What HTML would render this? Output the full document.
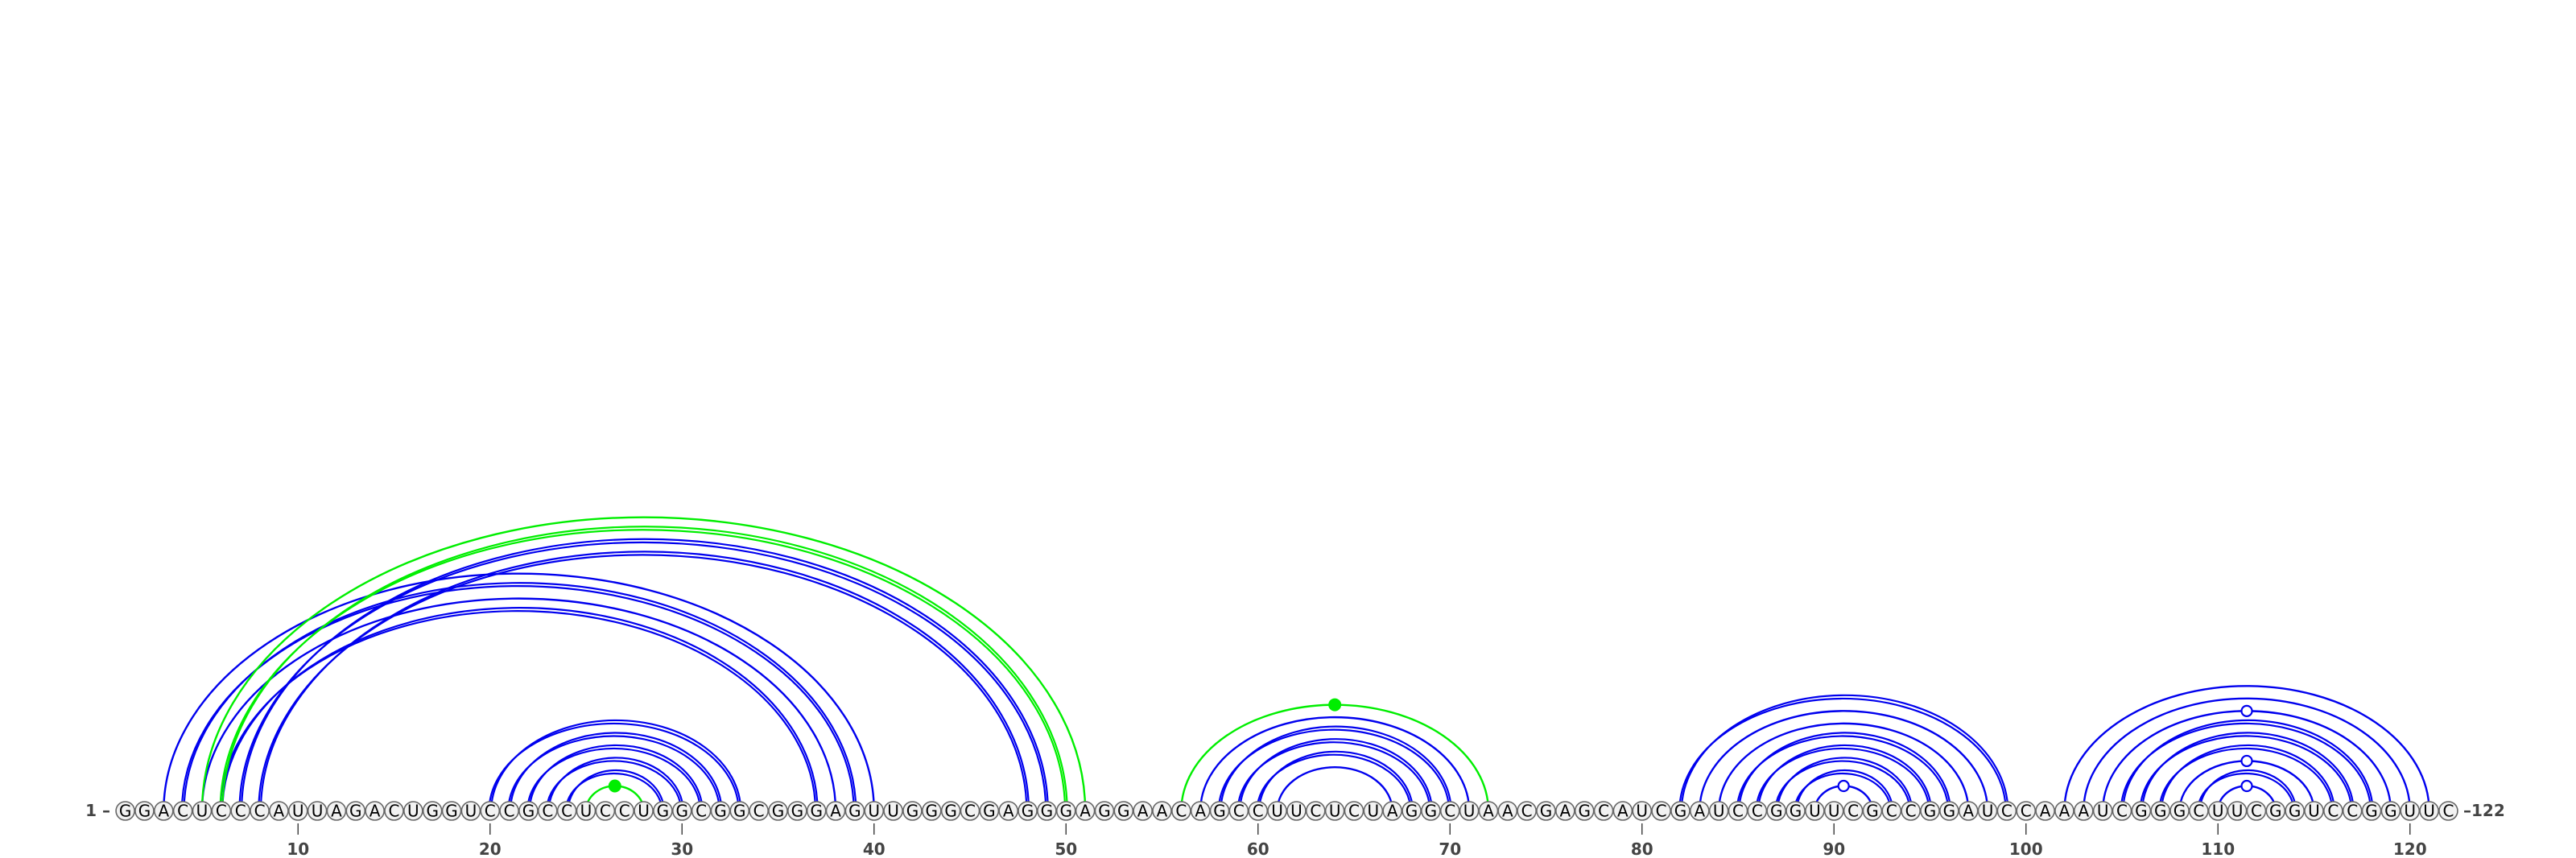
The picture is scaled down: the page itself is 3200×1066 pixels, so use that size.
<!DOCTYPE html>
<html><head><meta charset="utf-8">
<style>
html,body{margin:0;padding:0;background:#fff;}
svg{display:block;}
.nt{font-family:"DejaVu Sans","Liberation Sans",sans-serif;font-size:20px;fill:#000;}
.lab{font-family:"DejaVu Sans","Liberation Sans",sans-serif;font-size:20px;font-weight:bold;fill:#444;}
</style></head>
<body>
<svg id="chart" width="3200" height="1066" viewBox="0 0 3200 1066" xmlns="http://www.w3.org/2000/svg">
<g id="arcs"></g>
<g id="marks"></g>
<g id="nts"></g>
<g id="axis"></g>
</svg>
<script>
const sequence = "GGACUCCCAUUAGACUGGUCCGCCUCCUGGCGGCGGGAGUUGGGCGAGGGAGGAACAGCCUUCUCUAGGCUAACGAGCAUCGAUCCGGUUCGCCGGAUCCAAAUCGGGCUUCGGUCCGGUUC";
const blueSingle = [[3,40],[5,38],[57,71],[61,67],[83,98],[84,97],[89,92],[102,121],[103,120],[104,119],[108,115],[110,113]];
const blueDouble = [[4,39],[6,37],[7,49],[8,48],[20,33],[21,32],[22,31],[23,30],[24,29],[58,70],[59,69],[60,68],[82,99],[85,96],[86,95],[87,94],[88,93],[105,118],[106,117],[107,116],[109,114]];
const greenSingle = [[5,51],[25,28],[56,72]];
const greenDouble = [[6,50]];
const greenDots = [[25,28],[56,72]];
const openDots = [[89,92],[104,119],[108,115],[110,113]];
const tickPositions = [10,20,30,40,50,60,70,80,90,100,110,120];

const NS="http://www.w3.org/2000/svg";
const X0=155.6, DX=23.85, YB=1007.5;
function xPos(i){return X0+(i-1)*DX;}
function arcH(rx){return 0.651*rx+7.7;}
function mk(tag,attrs,parent){const e=document.createElementNS(NS,tag);for(const k in attrs)e.setAttribute(k,attrs[k]);parent.appendChild(e);return e;}
const gA=document.getElementById('arcs'),gM=document.getElementById('marks'),gN=document.getElementById('nts'),gX=document.getElementById('axis');

function drawArc(p,color,shift,dh,w){
  const xa=xPos(p[0])+shift,xb=xPos(p[1])+shift;
  const rx=(xb-xa)/2, ry=arcH(rx)-dh;
  const el=mk('path',{d:`M${xa},${YB} A${rx},${ry} 0 0 1 ${xb},${YB}`,fill:'none',stroke:color,'stroke-width':w},gA);
  
  
}
blueSingle.forEach(p=>drawArc(p,'#0000ee',0,0,2.4));
blueDouble.forEach(p=>{drawArc(p,'#0000ee',-1.2,0,2.2);drawArc(p,'#0000ee',1.4,-4,2.2);});
greenSingle.forEach(p=>drawArc(p,'#00ee00',0,0,2.4));
greenDouble.forEach(p=>{drawArc(p,'#00ee00',-1.2,0,2.2);drawArc(p,'#00ee00',1.4,-4,2.2);});

greenDots.forEach(p=>{
  const rx=(xPos(p[1])-xPos(p[0]))/2;
  const c=mk('circle',{cx:(xPos(p[0])+xPos(p[1]))/2,cy:YB-arcH(rx),r:8,fill:'#00ee00'},gM);
  
  
});
openDots.forEach(p=>{
  const rx=(xPos(p[1])-xPos(p[0]))/2;
  const c=mk('circle',{cx:(xPos(p[0])+xPos(p[1]))/2,cy:YB-arcH(rx),r:6.5,fill:'#fff',stroke:'#0000ee','stroke-width':2.2},gM);
  
  
});

for(let i=1;i<=sequence.length;i++){
  const g=mk('g',{},gN);
  
  
  mk('circle',{cx:xPos(i),cy:YB,r:11.5,fill:'#f2f2f2',stroke:'#666','stroke-width':1.6},g);
  const t=mk('text',{x:xPos(i),y:YB+7,'text-anchor':'middle',class:'nt'},g);
  t.textContent=sequence[i-1];
}

tickPositions.forEach(p=>{
  const l=mk('line',{x1:xPos(p),x2:xPos(p),y1:1023,y2:1037,stroke:'#444','stroke-width':1.5},gX);
  
  
  const t=mk('text',{x:xPos(p),y:1062,'text-anchor':'middle',class:'lab'},gX);
  
  
  t.textContent=p;
});
const s=mk('text',{x:137,y:1014,'text-anchor':'end',class:'lab'},gX);


s.textContent='1 –';
const e=mk('text',{x:3060,y:1014,'text-anchor':'start',class:'lab'},gX);


e.textContent='–'+sequence.length;
</script>
</body></html>
